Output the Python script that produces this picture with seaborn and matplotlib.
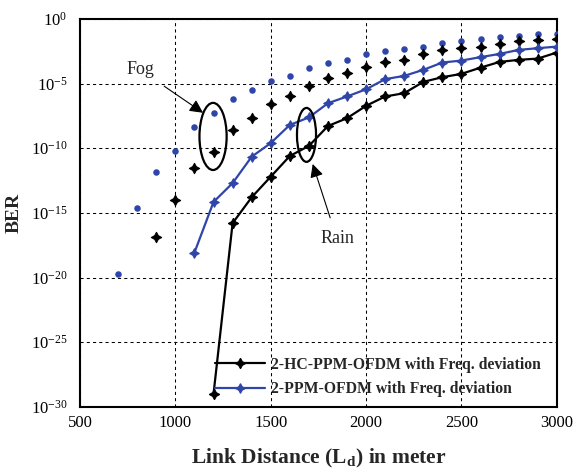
import matplotlib
matplotlib.use("Agg")
import matplotlib.pyplot as plt
import seaborn as sns
import pandas as pd
from matplotlib.patches import Ellipse
from matplotlib.ticker import LogFormatterMathtext, NullLocator

# link distance (m) and BER
dist_fog_ppm = [700, 800, 900, 1000, 1100, 1200, 1300, 1400, 1500, 1600, 1700, 1800,
                1900, 2000, 2100, 2200, 2300, 2400, 2500, 2600, 2700, 2800, 2900, 3000]
ber_fog_ppm = [2e-20, 2.5e-15, 1.5e-12, 6e-11, 4e-9, 5e-8, 6e-7, 3e-6, 1.5e-5, 4e-5, 1.6e-4, 4e-4,
               7e-4, 1.9e-3, 3.4e-3, 5e-3, 7e-3, 1.4e-2, 2.1e-2, 2.8e-2, 3.8e-2, 4.9e-2, 6.2e-2, 7.4e-2]

dist_fog_hc = [900, 1000, 1100, 1200, 1300, 1400, 1500, 1600, 1700, 1800, 1900,
               2000, 2100, 2200, 2300, 2400, 2500, 2600, 2700, 2800, 2900, 3000]
ber_fog_hc = [1.3e-17, 1e-14, 3.2e-12, 5e-11, 2.6e-9, 2e-8, 2.8e-7, 1e-6, 6e-6, 2.5e-5, 6e-5,
              2e-4, 4.7e-4, 6.8e-4, 1.9e-3, 3.8e-3, 6e-3, 7.2e-3, 1.2e-2, 1.8e-2, 2.4e-2, 2.8e-2]

dist_rain_ppm = [1100, 1200, 1300, 1400, 1500, 1600, 1700, 1800, 1900, 2000,
                 2100, 2200, 2300, 2400, 2500, 2600, 2700, 2800, 2900, 3000]
ber_rain_ppm = [8.5e-19, 7e-15, 2e-13, 2.2e-11, 2.5e-10, 6.3e-9, 2.4e-8, 3e-7, 1e-6, 3.6e-6,
                2.2e-5, 3.9e-5, 1.15e-4, 4.2e-4, 6e-4, 1.1e-3, 1.95e-3, 4e-3, 5.4e-3, 7.2e-3]

dist_rain_hc = [1200, 1300, 1400, 1500, 1600, 1700, 1800, 1900, 2000, 2100,
                2200, 2300, 2400, 2500, 2600, 2700, 2800, 2900, 3000]
ber_rain_hc = [1e-29, 1.6e-16, 1.6e-14, 6.3e-13, 2.5e-11, 1.5e-10, 5.2e-9, 2.1e-8, 1.9e-7, 1e-6,
               1.8e-6, 1.35e-5, 3.1e-5, 5.6e-5, 1.7e-4, 4.7e-4, 6.8e-4, 8.5e-4, 2.5e-3]

label_hc = "2-HC-PPM-OFDM with Freq. deviation"
label_ppm = "2-PPM-OFDM with Freq. deviation"

blue = "#2f45a8"
star = (4, 1, 0)

sns.set_style("white")
plt.rcParams["font.family"] = ["Liberation Serif", "DejaVu Serif"]
plt.rcParams["mathtext.fontset"] = "custom"
plt.rcParams["mathtext.rm"] = "Liberation Serif"
plt.rcParams["mathtext.bf"] = "Liberation Serif:bold"

fig = plt.figure(figsize=(5.8, 4.72), dpi=100)
ax = fig.add_axes([0.138, 0.138, 0.822, 0.822])
ax.set_yscale("log")

# fog: markers only
sns.scatterplot(x=dist_fog_ppm, y=ber_fog_ppm, ax=ax, color=blue, marker="o",
                s=22, edgecolor=blue, linewidth=0, zorder=3)
sns.scatterplot(x=dist_fog_hc, y=ber_fog_hc, ax=ax, color="black", marker=star,
                s=55, edgecolor="black", linewidth=0.8, zorder=3)

# rain: lines with markers
rain_hc = pd.DataFrame({"d": dist_rain_hc, "ber": ber_rain_hc})
rain_ppm = pd.DataFrame({"d": dist_rain_ppm, "ber": ber_rain_ppm})
sns.lineplot(data=rain_hc, x="d", y="ber", ax=ax, color="black", lw=1.6,
             marker=star, ms=7.5, mec="black", mew=0.8, label=label_hc, zorder=4)
sns.lineplot(data=rain_ppm, x="d", y="ber", ax=ax, color=blue, lw=1.6,
             marker=star, ms=7, mec=blue, mew=0.8, label=label_ppm, zorder=4)

ax.set_xlim(500, 3000)
ax.set_ylim(1e-30, 1)
ax.set_xticks([500, 1000, 1500, 2000, 2500, 3000])
ax.set_yticks([1e-30, 1e-25, 1e-20, 1e-15, 1e-10, 1e-5, 1])
ax.yaxis.set_major_formatter(LogFormatterMathtext())
ax.yaxis.set_minor_locator(NullLocator())
ax.tick_params(axis="both", labelsize=12, direction="in", length=0, colors="black")
ax.tick_params(axis="y", pad=9)
ax.tick_params(axis="x", pad=6)

ax.grid(True, color="black", linestyle=(0, (3, 3)), linewidth=0.75)
for s in ax.spines.values():
    s.set_color("black")
    s.set_linewidth(1.5)

ax.set_xlabel(r"Link Distance (L$_{\mathbf{d}}$) in meter", fontsize=15.5, fontweight="bold", labelpad=11)
ax.set_ylabel("BER", fontsize=14, fontweight="bold", labelpad=6)

# annotations
ax.add_patch(Ellipse((0.279, 0.697), 0.057, 0.173, transform=ax.transAxes,
                     fill=False, ec="black", lw=1.6, zorder=5))
ax.add_patch(Ellipse((0.475, 0.701), 0.040, 0.139, transform=ax.transAxes,
                     fill=False, ec="black", lw=1.6, zorder=5))
ax.annotate("Fog", xy=(0.258, 0.758), xycoords="axes fraction",
            xytext=(0.126, 0.869), textcoords="axes fraction", fontsize=13,
            ha="center", va="center",
            arrowprops=dict(arrowstyle="-|>", color="black", lw=0.8, mutation_scale=20,
                            shrinkA=6, shrinkB=0))
ax.annotate("Rain", xy=(0.488, 0.626), xycoords="axes fraction",
            xytext=(0.539, 0.433), textcoords="axes fraction", fontsize=13,
            ha="center", va="center",
            arrowprops=dict(arrowstyle="-|>", color="black", lw=0.8, mutation_scale=20,
                            shrinkA=7, shrinkB=0))

leg = ax.legend(loc="lower left", bbox_to_anchor=(0.283, 0.025), frameon=False,
                prop={"weight": "bold", "size": 11.3}, handlelength=3.2,
                handletextpad=0.4, borderpad=0, borderaxespad=0, labelspacing=0.55)

fig.savefig("out.png", dpi=100)
